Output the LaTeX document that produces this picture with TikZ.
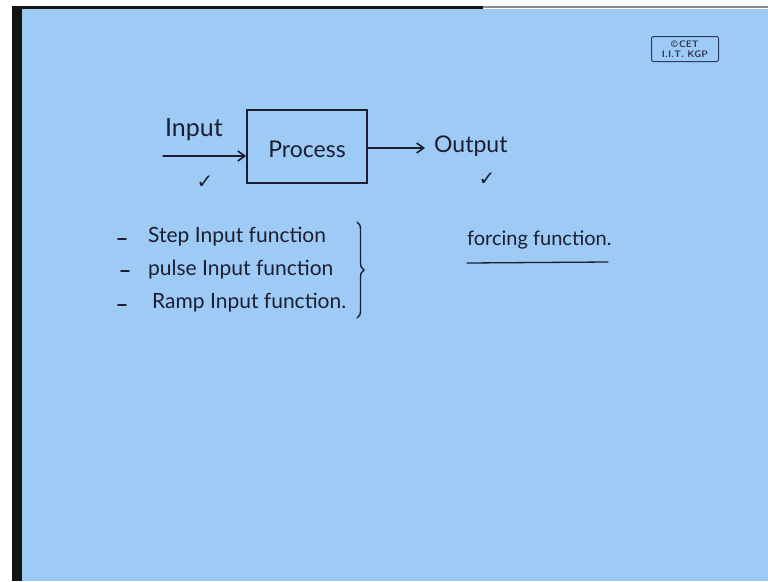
\documentclass[tikz,border=0pt]{standalone}
\usepackage{fontspec}
\setmainfont{Lato}
\newfontfamily\symfont{DejaVu Sans}
\usetikzlibrary{arrows.meta,decorations.pathreplacing}
\definecolor{board}{RGB}{158,202,246}
\definecolor{ink}{RGB}{28,30,48}
\definecolor{stampc}{RGB}{45,60,90}
\tikzset{
  hand/.style={text=ink, inner sep=0pt, font=\fontsize{23}{25}\selectfont},
  listtext/.style={hand, anchor=west, font=\fontsize{21}{23}\selectfont},
  pen/.style={draw=ink, line width=1.6pt, line cap=round},
  arr/.style={pen, -{Straight Barb[length=7pt,width=10pt]}},
  tick/.style={text=ink, inner sep=0pt, font=\symfont\fontsize{20}{22}\selectfont},
  dashmark/.style={pen, line width=1.8pt}
}
\begin{document}
\begin{tikzpicture}[x=1pt,y=-1pt]
\useasboundingbox (0,0) rectangle (768,581);
\fill[white] (0,0) rectangle (768,581);
\fill[black!92] (12,6) rectangle (22,581);
\fill[black!92] (12,6) rectangle (483,9);
\fill[black!45] (483,6) rectangle (768,8);
\fill[board] (22,9) rectangle (768,581);
% stamp
\node[draw=stampc, line width=1pt, rounded corners=2pt, minimum width=67pt, minimum height=25pt,
      text=stampc, inner sep=1pt, align=center,
      font=\sffamily\bfseries\fontsize{9.5}{9.5}\selectfont] (stamp) at (685,49) {\textcopyright\,CET\\I.I.T. KGP};
% process box
\node[pen, minimum width=120pt, minimum height=73pt, inner sep=0pt] (box) at (307,146.5) {};
\node[hand] (proc) at (307,149) {Process};
\node[hand, font=\fontsize{25}{27}\selectfont] (inlab) at (194,130) {Input};
\coordinate (instart) at (163,156);
\draw[arr] (instart) -- (box.west |- instart);
\coordinate (outend) at (425,148);
\draw[arr] (box.east |- outend) -- (outend);
\node[hand, anchor=west] (outlab) at (434,146) {Output};
\node[tick] (tick1) at (205,182) {✓};
\node[tick] (tick2) at (487,179) {✓};
% list
\coordinate (d1a) at (118,239); \coordinate (d1b) at (126,239);
\coordinate (d2a) at (121,271); \coordinate (d2b) at (129,271);
\coordinate (d3a) at (118,305); \coordinate (d3b) at (126,305);
\draw[dashmark] (d1a) -- (d1b);
\draw[dashmark] (d2a) -- (d2b);
\draw[dashmark] (d3a) -- (d3b);
\node[listtext] (l1) at (148,237) {Step Input function};
\node[listtext] (l2) at (148,270) {pulse Input function};
\node[listtext] (l3) at (152,303) {Ramp Input function.};
\coordinate (btop) at (357,222);
\coordinate (bbot) at (357,318);
\draw[pen, line width=1.4pt, decorate, decoration={brace, amplitude=7pt}] (btop) -- (bbot);
\node[hand, anchor=west, font=\fontsize{20}{22}\selectfont] (force) at (467,240) {forcing function.};
\coordinate (ul1) at (467,263);
\coordinate (ul2) at (608,262);
\draw[pen, line width=1.3pt] (ul1) -- (ul2);
\end{tikzpicture}
\end{document}
